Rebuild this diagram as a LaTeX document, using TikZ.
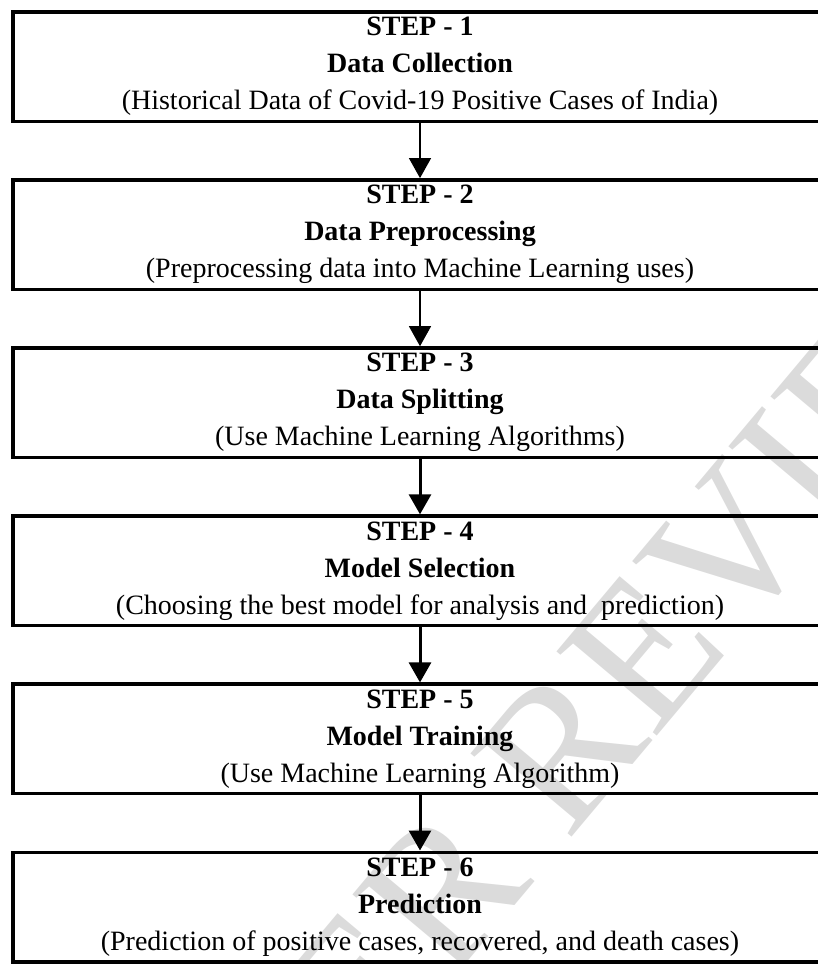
\documentclass[tikz,border=0pt]{standalone}
\usepackage{fontspec}
\setmainfont{Liberation Serif}
\usetikzlibrary{arrows.meta}
\begin{document}
\begin{tikzpicture}[x = 1pt, y = -1pt,
            stepbox/.style = {draw, line width = 3.5pt, minimum width = 814pt, minimum height = 109.5pt,
                              inner sep = 0pt, align = center, font = \fontsize{28}{37}\selectfont},
            thinflow/.style = {line width = 1.2pt, -{Triangle[length = 20pt, width = 22pt]}},
            thickflow/.style = {line width = 3pt, -{Triangle[length = 20pt, width = 22pt]}},
            wmark/.style = {text = black!14, rotate = 50, anchor = base west, inner sep = 0pt,
                            font = \fontsize{200}{200}\selectfont}]
            \useasboundingbox (0, 0) rectangle (818, 964);
            \node[wmark] (wm) at (221, 1256) {PEER REVIEW};
            \node[stepbox] (s1) at (420, 66.5)  {\textbf{STEP - 1}\\\textbf{Data Collection}\\(Historical Data of Covid-19 Positive Cases of India)};
            \node[stepbox] (s2) at (420, 234.6) {\textbf{STEP - 2}\\\textbf{Data Preprocessing}\\(Preprocessing data into Machine Learning uses)};
            \node[stepbox] (s3) at (420, 402.7) {\textbf{STEP - 3}\\\textbf{Data Splitting}\\(Use Machine Learning Algorithms)};
            \node[stepbox] (s4) at (420, 570.8) {\textbf{STEP - 4}\\\textbf{Model Selection}\\(Choosing the best model for analysis and~ prediction)};
            \node[stepbox] (s5) at (420, 738.9) {\textbf{STEP - 5}\\\textbf{Model Training}\\(Use Machine Learning Algorithm)};
            \node[stepbox] (s6) at (420, 907)   {\textbf{STEP - 6}\\\textbf{Prediction}\\(Prediction of positive cases, recovered, and death cases)};
            \foreach\a/\b in {s1/s2, s2/s3} {\draw[thinflow] (\a) -- (\b);};
            \foreach\a/\b in {s3/s4, s4/s5, s5/s6} {\draw[thickflow] (\a) -- (\b);};
        \end{tikzpicture}
\end{document}
